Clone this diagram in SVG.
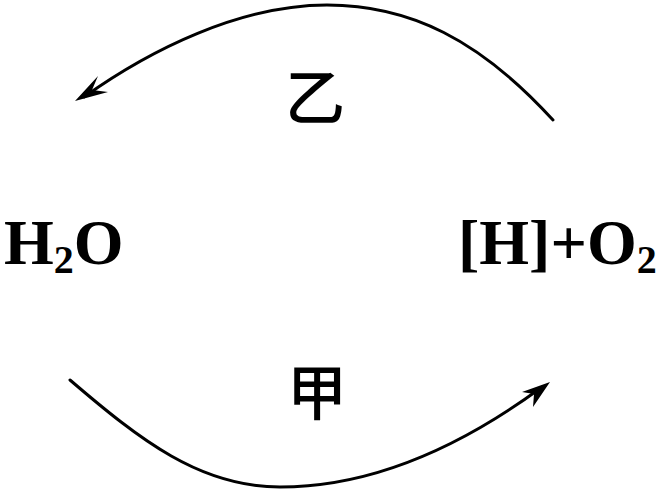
<svg xmlns="http://www.w3.org/2000/svg" width="667" height="493" viewBox="0 0 667 493">
<style>
.chem{font-family:"Liberation Serif","Times New Roman",serif;font-weight:bold;font-size:64px;fill:#000}
.sub{font-size:40px}
.cjk{font-family:"Noto Sans CJK SC",sans-serif;font-weight:500;font-size:60px;fill:#000}
.arc{fill:none;stroke:#000;stroke-width:3;stroke-linecap:round}
.head{fill:#000;stroke:none}
</style>
<rect width="667" height="493" fill="#fff"/>
<g id="connectors">
<path class="arc" d="M553,120 C480,40 410,5 327,5 C240,5 150,50 84,97"/>
<path class="head" d="M75,101 L98,76 L92,90 L108,92 Z"/>
<path class="arc" d="M70,380 C140,440 200,487 280,487 C380,487 470,440 542,387"/>
<path class="head" d="M550,382 L522,392 L534,394 L533,407 Z"/>
</g>
<g id="node-h2o">
<text class="chem" x="4" y="264">H<tspan class="sub" dy="9">2</tspan><tspan dy="-9">O</tspan></text>
</g>
<g id="node-h-o2">
<text class="chem" x="458" y="264">[H]+O<tspan class="sub" dy="9">2</tspan></text>
</g>
<g id="label-yi">
<text class="cjk" x="285" y="120">乙</text>
</g>
<g id="label-jia">
<text class="cjk" x="287" y="415">甲</text>
</g>
</svg>
